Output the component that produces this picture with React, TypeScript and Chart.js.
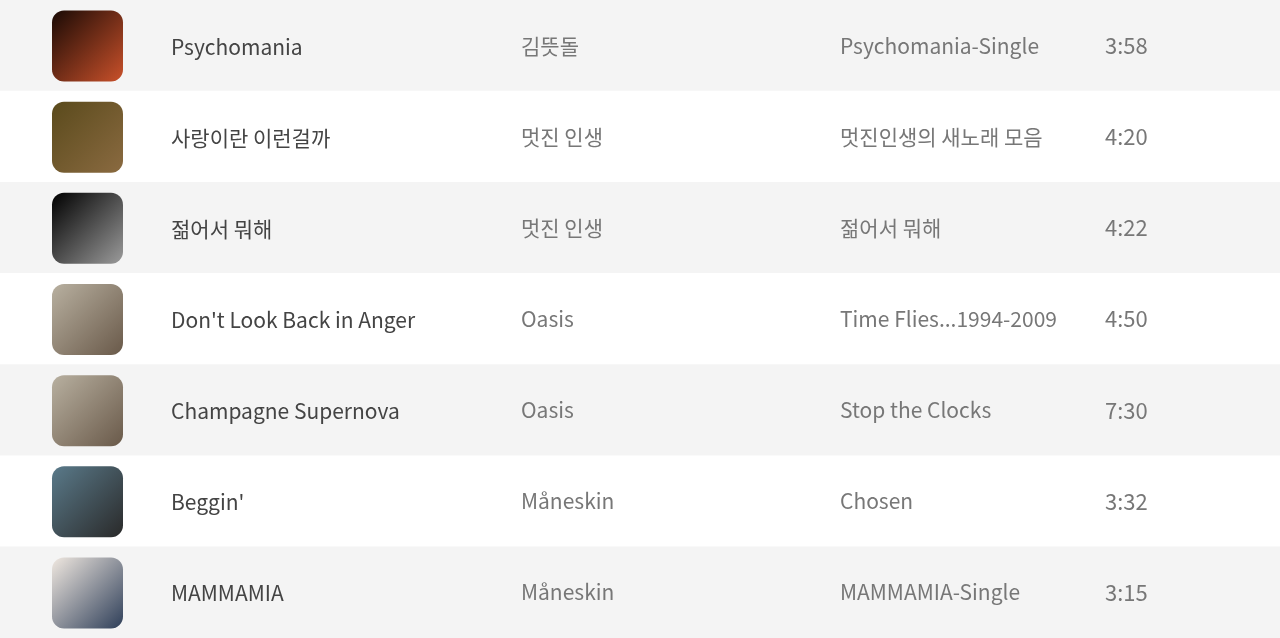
import React, { useEffect, useRef } from "react";
import { Chart, registerables } from "chart.js";

Chart.register(...registerables);

const titles = [
  "Psychomania",
  "사랑이란 이런걸까",
  "젊어서 뭐해",
  "Don't Look Back in Anger",
  "Champagne Supernova",
  "Beggin'",
  "MAMMAMIA",
];
const artists = ["김뜻돌", "멋진 인생", "멋진 인생", "Oasis", "Oasis", "Måneskin", "Måneskin"];
const albums = [
  "Psychomania-Single",
  "멋진인생의 새노래 모음",
  "젊어서 뭐해",
  "Time Flies...1994-2009",
  "Stop the Clocks",
  "Chosen",
  "MAMMAMIA-Single",
];
const durations = ["3:58", "4:20", "4:22", "4:50", "7:30", "3:32", "3:15"];
const rowFill = [1, 1, 1, 1, 1, 1, 1];
const artColors = [
  ["#1a0a05", "#c8502a"],
  ["#5a4a1c", "#8a6a40"],
  ["#000000", "#9a9a9a"],
  ["#b8b0a0", "#6a5a4a"],
  ["#b8b0a0", "#6a5a4a"],
  ["#5a7a8a", "#2a2a2a"],
  ["#f0e8e0", "#30405a"],
];

const FONT = "'Noto Sans CJK KR', 'Noto Sans', sans-serif";

const rowsPlugin = {
  id: "rows",
  afterDatasetsDraw(chart: any) {
    const ctx = chart.ctx as CanvasRenderingContext2D;
    const y = chart.scales.y;
    titles.forEach((t, i) => {
      const cy = y.getPixelForValue(i);
      // album art
      const g = ctx.createLinearGradient(52, cy - 35, 123, cy + 35);
      g.addColorStop(0, artColors[i][0]);
      g.addColorStop(1, artColors[i][1]);
      ctx.save();
      ctx.beginPath();
      (ctx as any).roundRect(52, cy - 35, 71, 71, 12);
      ctx.fillStyle = g;
      ctx.fill();
      ctx.restore();
      ctx.textBaseline = "middle";
      ctx.font = `21px ${FONT}`;
      ctx.fillStyle = "#444444";
      ctx.fillText(t, 171, cy + 1);
      ctx.fillStyle = "#777777";
      ctx.fillText(artists[i], 521, cy);
      ctx.fillText(albums[i], 840, cy);
      ctx.font = `22px ${FONT}`;
      ctx.fillText(durations[i], 1105, cy);
    });
  },
};

export default function App() {
  const ref = useRef<HTMLCanvasElement>(null);
  useEffect(() => {
    if (!ref.current) return;
    const chart = new Chart(ref.current, {
      type: "bar",
      data: {
        labels: titles,
        datasets: [
          {
            data: rowFill,
            backgroundColor: titles.map((_, i) => (i % 2 === 0 ? "#f4f4f4" : "#ffffff")),
            categoryPercentage: 1,
            barPercentage: 1,
          },
        ],
      },
      options: {
        animation: false,
        responsive: true,
        maintainAspectRatio: false,
        indexAxis: "y",
        layout: { padding: 0 },
        plugins: { legend: { display: false }, tooltip: { enabled: false } },
        scales: {
          x: { display: false, min: 0, max: 1 },
          y: { display: false },
        },
      },
      plugins: [rowsPlugin],
    });
    return () => chart.destroy();
  }, []);
  return (
    <div style={{ position: "fixed", left: 0, top: 0, width: 1280, height: 638, background: "#fff" }}>
      <canvas ref={ref} />
    </div>
  );
}
